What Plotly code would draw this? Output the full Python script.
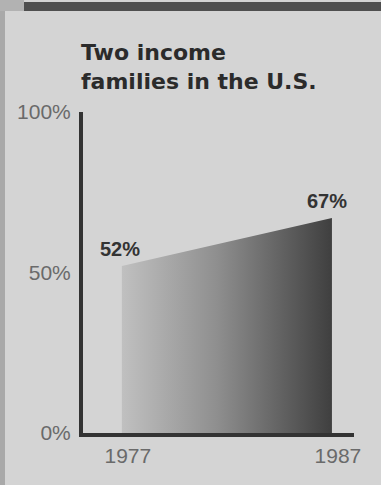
import plotly.graph_objects as go

# ---- data ----
years = [1977, 1987]
share_pct = [52, 67]
value_labels = ["52%", "67%"]
y_tick_vals = [0, 50, 100]
y_tick_text = ["0%", "50%", "100%"]
x_tick_vals = [1977, 1987]
x_tick_text = ["1977", "1987"]
title_lines = ["Two income", "families in the U.S."]

W, H = 381, 485
L, R, T, B = 83, 27, 112, 52
pw, ph = W - L - R, H - T - B

def px_x(px):
    return (px - L) / pw

def px_y(py):
    return 1 - (py - T) / ph

BG = "#d4d4d4"
INK = "#333333"
TICK = "#6a6a6a"

fig = go.Figure()
fig.add_trace(go.Scatter(
    x=years, y=share_pct, mode="lines", line=dict(width=0),
    fill="tozeroy",
    fillgradient=dict(type="horizontal",
                      colorscale=[[0, "#c0c0c0"], [0.45, "#8f8f8f"], [1, "#3f3f3f"]]),
    hoverinfo="skip", showlegend=False,
))

for x, y, t in zip(years, share_pct, value_labels):
    fig.add_annotation(x=x, y=y, text=f"<b>{t}</b>", showarrow=False,
                       xanchor="center", yanchor="bottom", yshift=4,
                       xshift=-2 if x == years[0] else -5,
                       font=dict(family="Liberation Sans, Arial, sans-serif", size=20, color=INK))

# title (two lines)
fig.add_annotation(xref="paper", yref="paper", x=px_x(79), y=px_y(67),
                   text="<br>".join(f"<b>{s}</b>" for s in title_lines),
                   showarrow=False, xanchor="left", yanchor="middle", align="left",
                   font=dict(family="DejaVu Sans, sans-serif", size=22, color="#2b2b2b"))

# decorative frame: left strip, top corner, top dark bar
fig.add_shape(type="rect", xref="paper", yref="paper",
              x0=px_x(0), x1=px_x(5), y0=px_y(H), y1=px_y(0),
              fillcolor="#a9a9a9", line_width=0, layer="below")
fig.add_shape(type="rect", xref="paper", yref="paper",
              x0=px_x(0), x1=px_x(24), y0=px_y(11), y1=px_y(0),
              fillcolor="#b2b2b2", line_width=0, layer="below")
fig.add_shape(type="rect", xref="paper", yref="paper",
              x0=px_x(24), x1=px_x(W), y0=px_y(11), y1=px_y(2),
              fillcolor="#4f4f4f", line_width=0, layer="below")

fig.update_layout(
    width=W, height=H,
    margin=dict(l=L, r=R, t=T, b=B),
    paper_bgcolor=BG, plot_bgcolor=BG,
    showlegend=False,
)
fig.update_xaxes(range=[1975.15, 1988.05], tickvals=x_tick_vals, ticktext=x_tick_text,
                 showgrid=False, zeroline=False, showline=True, linewidth=4, linecolor=INK,
                 ticks="", ticklabelstandoff=1, ticklabelshift=6,
                 tickfont=dict(family="Liberation Sans, Arial, sans-serif", size=21, color=TICK))
fig.update_yaxes(range=[0, 100], tickvals=y_tick_vals, ticktext=y_tick_text,
                 showgrid=False, zeroline=False, showline=True, linewidth=4, linecolor=INK,
                 ticks="", ticklabelstandoff=4,
                 tickfont=dict(family="Liberation Sans, Arial, sans-serif", size=21, color=TICK))

fig.write_html("out.html", config={"displayModeBar": False},
               post_script="document.body.style.margin='0';")
